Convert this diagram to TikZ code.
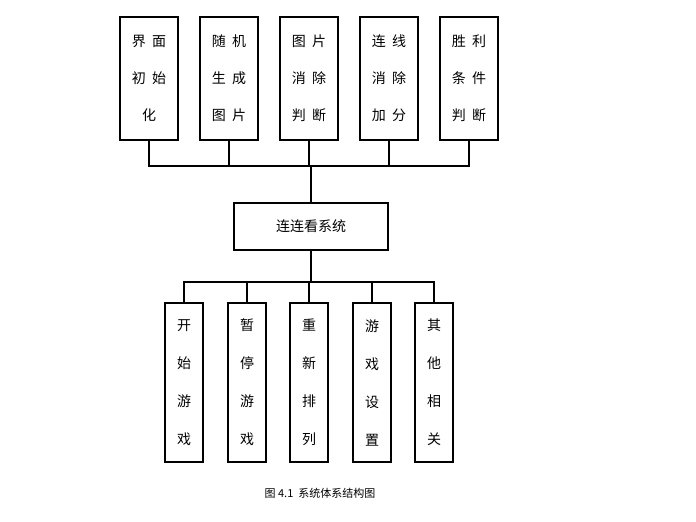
\documentclass[tikz,border=0pt]{standalone}
\usepackage{fontspec}
\newfontfamily\cjk{Noto Sans CJK SC}
\usetikzlibrary{calc}
\tikzset{
  topbox/.style={draw, line width=1.3pt, minimum width=58pt, minimum height=123pt, inner sep=0pt,
    align=center, font=\cjk\fontsize{14}{37}\selectfont},
  lowbox/.style={draw, line width=1.3pt, minimum width=38pt, minimum height=159pt, inner sep=0pt,
    align=center, font=\cjk\fontsize{14}{38}\selectfont},
  midbox/.style={draw, line width=1.3pt, minimum width=154pt, minimum height=47pt,
    font=\cjk\fontsize{14}{16}\selectfont},
  wire/.style={line width=1.3pt}
}
\begin{document}
\begin{tikzpicture}[x=1pt,y=-1pt]
    \useasboundingbox (0,0) rectangle (696,522);

    % upper modules
    \node[topbox] (jiemian) at (149,78.5) {界\ \ 面\\初\ \ 始\\化};
    \node[topbox] (suiji) at (229,78.5) {随\ \ 机\\生\ \ 成\\图\ \ 片};
    \node[topbox] (xiaochu) at (309,78.5) {图\ \ 片\\消\ \ 除\\判\ \ 断};
    \node[topbox] (jiafen) at (389,78.5) {连\ \ 线\\消\ \ 除\\加\ \ 分};
    \node[topbox] (shengli) at (469,78.5) {胜\ \ 利\\条\ \ 件\\判\ \ 断};

    % system
    \node[midbox] (xitong) at (311,226.5) {连连看系统};

    % lower modules
    \node[lowbox] (kaishi) at (184,382.5) {开\\始\\游\\戏};
    \node[lowbox] (zanting) at (247,382.5) {暂\\停\\游\\戏};
    \node[lowbox] (chongxin) at (309,382.5) {重\\新\\排\\列};
    \node[lowbox] (shezhi) at (372,382.5) {游\\戏\\设\\置};
    \node[lowbox] (qita) at (434,382.5) {其\\他\\相\\关};

    % upper bus
    \coordinate (topbus) at (311,166);
    \draw[wire] (jiemian.south) |- (topbus) -| (shengli.south);
    \foreach \n in {suiji,xiaochu,jiafen}
        \draw[wire] (\n.south) -- (\n.south |- topbus);
    \draw[wire] (topbus) -- (xitong.north);

    % lower bus
    \coordinate (lowbus) at (311,282);
    \draw[wire] (xitong.south) -- (lowbus);
    \draw[wire] (kaishi.north) |- (lowbus) -| (qita.north);
    \foreach \n in {zanting,chongxin,shezhi}
        \draw[wire] (\n.north) -- (\n.north |- lowbus);

    \node[font=\cjk\fontsize{11}{13}\selectfont] (caption) at (320,493) {图 4.1\ \ 系统体系结构图};
\end{tikzpicture}
\end{document}
